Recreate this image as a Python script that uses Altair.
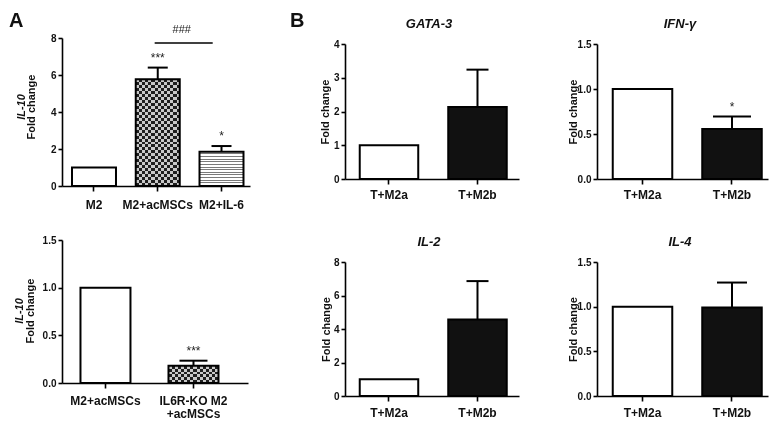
import altair as alt
import pandas as pd

FONT = "Liberation Sans"

# ---------------- data ----------------
a_top_groups = ["M2", "M2+acMSCs", "M2+IL-6"]
a_top_mean = [1.0, 5.77, 1.85]
a_top_sem = [0.0, 0.63, 0.31]
a_top_sig = ["", "***", "*"]
a_top_fill = ["white", "checker", "stripes"]
a_top_yticks = [0, 2, 4, 6, 8]
a_top_bracket = ["M2+acMSCs", "M2+IL-6", 7.73, "###"]

a_bot_groups = ["M2+acMSCs", "IL6R-KO M2\n+acMSCs"]
a_bot_mean = [1.0, 0.18]
a_bot_sem = [0.0, 0.054]
a_bot_sig = ["", "***"]
a_bot_fill = ["white", "checker"]
a_bot_yticks = [0.0, 0.5, 1.0, 1.5]

b_groups = ["T+M2a", "T+M2b"]
b_fill = ["white", "black"]
gata3_mean = [1.0, 2.13]
gata3_sem = [0.0, 1.11]
ifng_mean = [1.0, 0.556]
ifng_sem = [0.0, 0.138]
ifng_sig = ["", "*"]
il2_mean = [1.0, 4.57]
il2_sem = [0.0, 2.29]
il4_mean = [1.0, 0.99]
il4_sem = [0.0, 0.28]
no_sig = ["", ""]
yticks_4 = [0, 1, 2, 3, 4]
yticks_8 = [0, 2, 4, 6, 8]
yticks_15 = [0.0, 0.5, 1.0, 1.5]


def stripe_gradient(n, c1, c2, frac, horizontal_lines=True):
    stops = []
    for i in range(n):
        a = i / n
        b = (i + 1 - frac) / n
        c = (i + 1) / n
        stops += [
            {"offset": round(a, 5), "color": c1},
            {"offset": round(b, 5), "color": c1},
            {"offset": round(b, 5), "color": c2},
            {"offset": round(c, 5), "color": c2},
        ]
    g = {"gradient": "linear", "stops": stops, "x1": 0, "y1": 0}
    if horizontal_lines:
        g.update({"x2": 0, "y2": 1})
    else:
        g.update({"x2": 1, "y2": 0})
    return g


def text_layer(txt, x, y, size, weight="bold", style="normal", angle=0, align="center",
               baseline="middle"):
    return alt.Chart(pd.DataFrame({"t": [txt]})).mark_text(
        font=FONT, fontSize=size, fontWeight=weight, fontStyle=style, angle=angle,
        align=align, baseline=baseline, color="#111"
    ).encode(x=alt.value(x), y=alt.value(y), text="t:N")


def panel(groups, means, sems, sigs, fills, ymax, yticks, yfmt, W, H, pad, cap, box,
          top_pad=0, ylabel_x=None, title=None, title_xy=None, a_titles=None, letter=None,
          letter_xy=None, xlabel_pad=4, multi=False, bracket=None):
    tops = [m + s for m, s in zip(means, sems)]
    base_col = {"white": "white", "black": "#111", "checker": "#1e1e1e", "stripes": "white"}
    df = pd.DataFrame({"group": groups, "mean": means, "sem": sems, "top": tops,
                       "sig": sigs, "base": [base_col[f] for f in fills]})
    HT = H + top_pad
    pi, po, al = pad
    n = len(groups)
    step = W / (n - pi + 2 * po)
    bw = step * (1 - pi)
    xscale = alt.Scale(domain=groups, paddingInner=pi, paddingOuter=po, align=al)
    ax_kw = dict(title=None, labelAngle=0, labelFontSize=12, labelPadding=xlabel_pad,
                 tickSize=5, labelFont=FONT, labelFontWeight="bold", labelColor="#111",
                 domainWidth=1.6, tickWidth=1.6, domainColor="black", tickColor="black",
                 grid=False)
    if multi:
        ax_kw.update(labelExpr="split(datum.label, '\\n')", labelLineHeight=13)
    xaxis = alt.Axis(**ax_kw)
    yscale = alt.Scale(domain=[0, ymax], nice=False, zero=True, range=[HT, top_pad])
    ay_kw = dict(values=yticks, format=yfmt, labelFontSize=10, tickSize=4, labelPadding=2,
                 labelFont=FONT, labelFontWeight="bold", labelColor="#111", domainWidth=1.6,
                 tickWidth=1.6, domainColor="black", tickColor="black", grid=False)
    if ylabel_x is not None:
        ay_kw.update(title="Fold change", titleX=ylabel_x, titleY=top_pad + H / 2,
                     titleAngle=270, titleAlign="center", titleBaseline="middle",
                     titleFontSize=11, titleFontWeight="bold", titleFont=FONT,
                     titleColor="#111")
    else:
        ay_kw.update(title=None)
    yaxis = alt.Axis(**ay_kw)
    X = alt.X("group:N", sort=groups, scale=xscale, axis=xaxis)
    Y = alt.Y("mean:Q", scale=yscale, axis=yaxis)
    Xn = alt.X("group:N", sort=groups, axis=xaxis)
    Yn = alt.Y("mean:Q", axis=yaxis)
    Yt = alt.Y("top:Q", axis=yaxis)

    layers = [alt.Chart(df).mark_bar(strokeWidth=0).encode(
        x=X, y=Y, fill=alt.Fill("base:N", scale=None))]
    px_per = H / ymax
    for g, m, f in zip(groups, means, fills):
        hpx = m * px_per
        sub = df[df["group"] == g]
        if f == "checker":
            nr = max(1, round(hpx / 6))
            nc = max(1, round(bw / 6))
            rows = stripe_gradient(nr, "#1e1e1e", "#c8c8c8", 0.5, True)
            cols = stripe_gradient(nc, "#e6e6e6", "rgba(0,0,0,0)", 0.5, False)
            layers.append(alt.Chart(sub).mark_bar(fill=rows, strokeWidth=0).encode(x=Xn, y=Yn))
            layers.append(alt.Chart(sub).mark_bar(fill=cols, strokeWidth=0, blend="difference")
                          .encode(x=Xn, y=Yn))
        elif f == "stripes":
            nn = max(1, round(hpx / 2.7))
            st = stripe_gradient(nn, "white", "#7a7a7a", 0.38, True)
            layers.append(alt.Chart(sub).mark_bar(fill=st, strokeWidth=0).encode(x=Xn, y=Yn))
    layers.append(alt.Chart(df).mark_bar(fillOpacity=0, stroke="black", strokeWidth=2)
                  .encode(x=Xn, y=Yn))

    eb = df[df["sem"] > 0]
    layers.append(alt.Chart(eb).mark_rule(color="black", strokeWidth=2).encode(
        x=Xn, y=Yn, y2=alt.Y2("top:Q")))
    layers.append(alt.Chart(eb).mark_tick(color="black", thickness=2, size=cap, opacity=1,
                                          orient="horizontal").encode(x=Xn, y=Yt))
    sg = df[df["sig"] != ""]
    if len(sg):
        layers.append(alt.Chart(sg).mark_text(dy=-6, baseline="alphabetic", fontSize=12,
                                              font=FONT, color="#222").encode(
            x=Xn, y=Yt, text="sig:N"))
    if bracket is not None:
        g1, g2, yv, lab = bracket
        bdf = pd.DataFrame({"g1": [g1], "g2": [g2], "y": [yv], "lab": [lab]})
        layers.append(alt.Chart(bdf).mark_rule(color="black", strokeWidth=1.5).encode(
            x=alt.X("g1:N", bandPosition=0.43, axis=xaxis),
            x2=alt.X2("g2:N", bandPosition=0.3),
            y=alt.Y("y:Q", axis=yaxis)))
        layers.append(alt.Chart(bdf).mark_text(dx=24, dy=-10, fontSize=11, font=FONT,
                                               baseline="alphabetic", color="#222").encode(
            x=alt.X("g1:N", axis=xaxis), y=alt.Y("y:Q", axis=yaxis), text="lab:N"))
    if title is not None:
        layers.append(text_layer(title, title_xy[0], title_xy[1], 13, style="italic"))
    if a_titles is not None:
        (t1x, t2x, ty) = a_titles
        layers.append(text_layer("IL-10", t1x, ty, 11, style="italic", angle=270))
        layers.append(text_layer("Fold change", t2x, ty, 11, angle=270))
    if letter is not None:
        layers.append(text_layer(letter, letter_xy[0], letter_xy[1], 20, align="left",
                                 baseline="top"))
    l, t, r, b = box
    layers.append(alt.Chart(pd.DataFrame({"k": [0]})).mark_rule(
        strokeOpacity=0, strokeWidth=0).encode(
        x=alt.value(l), x2=alt.value(r), y=alt.value(t), y2=alt.value(b)))
    return alt.layer(*layers).properties(width=W, height=HT)


a_top = panel(a_top_groups, a_top_mean, a_top_sem, a_top_sig, a_top_fill, 8, a_top_yticks, "d",
              188, 148, (0.31, 0.1294, 0.606), 20, (-54, -30, 208, 177),
              a_titles=(-40, -30, 69), letter="A", letter_xy=(-53, -27), xlabel_pad=8,
              bracket=a_top_bracket)
a_bot = panel(a_bot_groups, a_bot_mean, a_bot_sem, a_bot_sig, a_bot_fill, 1.5, a_bot_yticks,
              ".1f", 186, 143, (0.432, 0.2727, 0.385), 28, (-54, -25, 208, 170),
              a_titles=(-42, -31, 71), xlabel_pad=7, multi=True)
gata = panel(b_groups, gata3_mean, gata3_sem, no_sig, b_fill, 4, yticks_4, "d",
             174, 135, (0.339, 0.1525, 0.546), 22, (-75, -30, 195, 174), top_pad=6,
             ylabel_x=-20, title="GATA-3", title_xy=(84, -14), letter="B",
             letter_xy=(-55, -27), xlabel_pad=5)
il2 = panel(b_groups, il2_mean, il2_sem, no_sig, b_fill, 8, yticks_8, "d",
            174, 134, (0.339, 0.1525, 0.546), 22, (-75, -50, 195, 138),
            ylabel_x=-19, title="IL-2", title_xy=(84, -20), xlabel_pad=6)
ifng = panel(b_groups, ifng_mean, ifng_sem, ifng_sig, b_fill, 1.5, yticks_15, ".1f",
             171, 135, (0.335, 0.1229, 0.716), 38, (-57, -30, 172, 174), top_pad=6,
             ylabel_x=-24, title="IFN-\u03b3", title_xy=(83, -14), xlabel_pad=5)
il4 = panel(b_groups, il4_mean, il4_sem, no_sig, b_fill, 1.5, yticks_15, ".1f",
            171, 134, (0.335, 0.1229, 0.716), 30, (-57, -50, 172, 138),
            ylabel_x=-24, title="IL-4", title_xy=(83, -20), xlabel_pad=6)

chart = alt.hconcat(
    alt.vconcat(a_top, a_bot, spacing=0),
    alt.vconcat(gata, il2, spacing=0),
    alt.vconcat(ifng, il4, spacing=0),
    spacing=0,
).properties(padding=0).configure_view(strokeWidth=0)

chart.save("out.html", embed_options={"renderer": "svg", "actions": False})
